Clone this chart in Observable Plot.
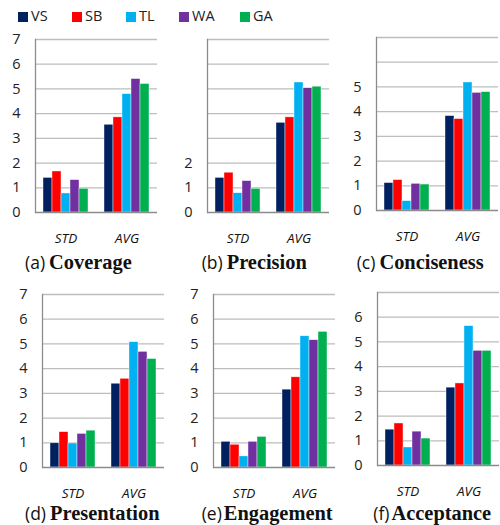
<!DOCTYPE html>
<html>
<head>
<meta charset="utf-8">
<script src="https://cdn.jsdelivr.net/npm/d3@7"></script>
<script src="https://cdn.jsdelivr.net/npm/@observablehq/plot@0.6"></script>
<style>
  html, body { margin: 0; padding: 0; background: #fff; overflow: hidden; }
  body { width: 500px; height: 525px; position: relative; font-family: "Open Sans", sans-serif; }
  .panel { position: absolute; }
  .legend { position: absolute; top: 7px; left: 18px; font-size: 14.5px; color: #222; }
  .legend .item { position: absolute; top: 0; white-space: nowrap; line-height: 18px; }
  .legend .sw { display: inline-block; width: 10px; height: 10px; vertical-align: -0.5px; margin-right: 3px; }
  .cap { position: absolute; white-space: nowrap; color: #111; line-height: 18px; }
  .cap .lab { font-family: "Open Sans", sans-serif; font-size: 17.5px; }
  .cap .name { font-family: "Liberation Serif", "Times New Roman", serif; font-weight: bold; font-size: 20.4px; margin-left: 4px; }
  .cap.tight .name { margin-left: 2px; }
</style>
</head>
<body>
<div class="legend" id="legend"></div>
<script>
// ---- data ----
const series = ["VS", "SB", "TL", "WA", "GA"];
const colors = ["#002060", "#ff0000", "#00b0f0", "#7030a0", "#00b050"];
const stats = ["STD", "AVG"];
const panelLetters = ["a", "b", "c", "d", "e", "f"];
const panelNames = ["Coverage", "Precision", "Conciseness", "Presentation", "Engagement", "Acceptance"];
// values per panel in series order VS,SB,TL,WA,GA
const coverageSTD = [1.40, 1.66, 0.77, 1.31, 0.96];
const coverageAVG = [3.55, 3.85, 4.79, 5.40, 5.20];
const precisionSTD = [1.40, 1.61, 0.78, 1.27, 0.96];
const precisionAVG = [3.63, 3.85, 5.26, 5.03, 5.09];
const concisenessSTD = [1.11, 1.23, 0.38, 1.08, 1.05];
const concisenessAVG = [3.82, 3.70, 5.18, 4.76, 4.79];
const presentationSTD = [0.98, 1.43, 0.97, 1.36, 1.49];
const presentationAVG = [3.39, 3.59, 5.07, 4.68, 4.39];
const engagementSTD = [1.04, 0.92, 0.45, 1.04, 1.24];
const engagementAVG = [3.15, 3.65, 5.31, 5.15, 5.49];
const acceptanceSTD = [1.45, 1.70, 0.73, 1.37, 1.09];
const acceptanceAVG = [3.15, 3.32, 5.64, 4.64, 4.64];
const panelSTD = [coverageSTD, precisionSTD, concisenessSTD, presentationSTD, engagementSTD, acceptanceSTD];
const panelAVG = [coverageAVG, precisionAVG, concisenessAVG, presentationAVG, engagementAVG, acceptanceAVG];
// y tick labels shown per panel
const tickLabels = [
  [0, 1, 2, 3, 4, 5, 6, 7],
  [0, 1, 2],
  [0, 1, 2, 3, 4, 5],
  [0, 1, 2, 3, 4, 5, 6, 7],
  [0, 1, 2, 3, 4, 5, 6, 7],
  [0, 1, 2, 3, 4, 5, 6]
];
const gridValues = [1, 2, 3, 4, 5, 6, 7];

// ---- layout ----
const ML = 35, MR = 3, MT = 10, MB = 34, PW = 122, PH = 173;
const panelPos = [
  [0, 29.3], [171.7, 29.3], [340.7, 27.3],
  [7.3, 283.7], [178.3, 283.7], [342.3, 282.3]
];
const capPos = [
  [25, 253], [201.7, 253], [356.7, 253],
  [25, 503.5], [201.7, 503.5], [373.3, 503.5]
];

// legend
const legend = document.getElementById("legend");
const legendX = [0, 54, 108, 161, 222];
series.forEach((s, i) => {
  const it = document.createElement("div");
  it.className = "item";
  it.style.left = legendX[i] + "px";
  it.innerHTML = `<span class="sw" style="background:${colors[i]}"></span>${s}`;
  legend.appendChild(it);
});

panelNames.forEach((name, p) => {
  const data = [];
  stats.forEach((st, si) => {
    const vals = si === 0 ? panelSTD[p] : panelAVG[p];
    series.forEach((s, k) => data.push({stat: st, series: s, value: vals[k]}));
  });
  const chart = Plot.plot({
    width: ML + PW + MR,
    height: MT + PH + MB,
    marginLeft: ML, marginRight: MR, marginTop: MT, marginBottom: MB,
    style: {fontFamily: "'Open Sans', sans-serif", background: "transparent", overflow: "visible"},
    fx: {domain: stats, padding: 0, axis: null, label: null},
    x: {domain: series, paddingInner: 0, paddingOuter: 0.745, axis: null, label: null},
    y: {domain: [0, 7], axis: null, label: null},
    color: {domain: series, range: colors},
    marks: [
      Plot.ruleY(gridValues, {stroke: "#bdbdbd", strokeWidth: 1.3}),
      Plot.barY(data, {fx: "stat", x: "series", y: "value", fill: "series", insetLeft: 0, insetRight: 0,
        stroke: "#ffffff", strokeWidth: 0.6, strokeOpacity: 0.7}),
      Plot.ruleY([0], {stroke: "#8c8c8c", strokeWidth: 1.3}),
      Plot.frame({anchor: "left", facetAnchor: "left", stroke: "#8c8c8c", strokeWidth: 1.3}),
      Plot.axisY(tickLabels[p], {tickSize: 0, tickPadding: 15, fontSize: 14.5, fill: "#222", label: null, facetAnchor: "left"}),
      Plot.axisFx({anchor: "bottom", tickSize: 0, tickPadding: 21, fontSize: 13.5, fontStyle: "italic", fill: "#111", label: null})
    ]
  });
  chart.classList.add("panel");
  chart.style.left = panelPos[p][0] + "px";
  chart.style.top = panelPos[p][1] + "px";
  document.body.appendChild(chart);

  const cap = document.createElement("div");
  cap.className = "cap" + (p >= 4 ? " tight" : "");
  cap.style.left = capPos[p][0] + "px";
  cap.style.top = capPos[p][1] + "px";
  cap.innerHTML = `<span class="lab">(${panelLetters[p]})</span><span class="name">${name}</span>`;
  document.body.appendChild(cap);
});
</script>
</body>
</html>
